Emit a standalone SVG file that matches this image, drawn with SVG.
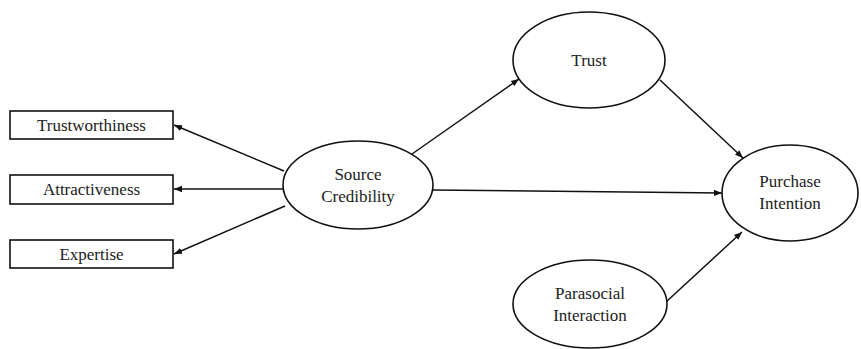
<svg xmlns="http://www.w3.org/2000/svg" width="861" height="349" viewBox="0 0 861 349">
<defs>
<marker id="a" viewBox="0 0 10 10" refX="10" refY="5" markerWidth="8" markerHeight="8" markerUnits="userSpaceOnUse" orient="auto">
<path d="M0,1 L10,5 L0,9 z" fill="#111"/>
</marker>
</defs>
<rect width="861" height="349" fill="#fff"/>
<g id="connectors" stroke="#111" stroke-width="1.5" fill="none" marker-end="url(#a)">
<line x1="284" y1="171" x2="174" y2="125"/>
<line x1="283" y1="189" x2="174" y2="189"/>
<line x1="285" y1="206" x2="174" y2="254"/>
<line x1="412" y1="154" x2="519" y2="79"/>
<line x1="433" y1="190" x2="722" y2="193"/>
<line x1="660" y1="80" x2="743" y2="158"/>
<line x1="666" y1="302" x2="742" y2="232"/>
</g>
<g id="trustworthiness"><rect x="10" y="111" width="163" height="28" fill="#fff" stroke="#111" stroke-width="1.6"/><text x="91.5" y="131" font-family="Liberation Serif" font-size="17" fill="#222" text-anchor="middle">Trustworthiness</text></g>
<g id="attractiveness"><rect x="10" y="175" width="163" height="29" fill="#fff" stroke="#111" stroke-width="1.6"/><text x="91.5" y="195" font-family="Liberation Serif" font-size="17" fill="#222" text-anchor="middle">Attractiveness</text></g>
<g id="expertise"><rect x="10" y="240" width="163" height="28" fill="#fff" stroke="#111" stroke-width="1.6"/><text x="91.5" y="260" font-family="Liberation Serif" font-size="17" fill="#222" text-anchor="middle">Expertise</text></g>
<g id="source-credibility"><ellipse cx="358" cy="185" rx="75" ry="44" fill="#fff" stroke="#111" stroke-width="1.6"/><text x="358" y="180" font-family="Liberation Serif" font-size="17" fill="#222" text-anchor="middle">Source</text><text x="358" y="202" font-family="Liberation Serif" font-size="17" fill="#222" text-anchor="middle">Credibility</text></g>
<g id="trust"><ellipse cx="589" cy="60" rx="76" ry="48" fill="#fff" stroke="#111" stroke-width="1.6"/><text x="589" y="66" font-family="Liberation Serif" font-size="17" fill="#222" text-anchor="middle">Trust</text></g>
<g id="purchase-intention"><ellipse cx="790" cy="193" rx="68" ry="48" fill="#fff" stroke="#111" stroke-width="1.6"/><text x="790" y="187" font-family="Liberation Serif" font-size="17" fill="#222" text-anchor="middle">Purchase</text><text x="790" y="209" font-family="Liberation Serif" font-size="17" fill="#222" text-anchor="middle">Intention</text></g>
<g id="parasocial-interaction"><ellipse cx="590" cy="304" rx="77" ry="44" fill="#fff" stroke="#111" stroke-width="1.6"/><text x="590" y="299" font-family="Liberation Serif" font-size="17" fill="#222" text-anchor="middle">Parasocial</text><text x="590" y="321" font-family="Liberation Serif" font-size="17" fill="#222" text-anchor="middle">Interaction</text></g>
</svg>
